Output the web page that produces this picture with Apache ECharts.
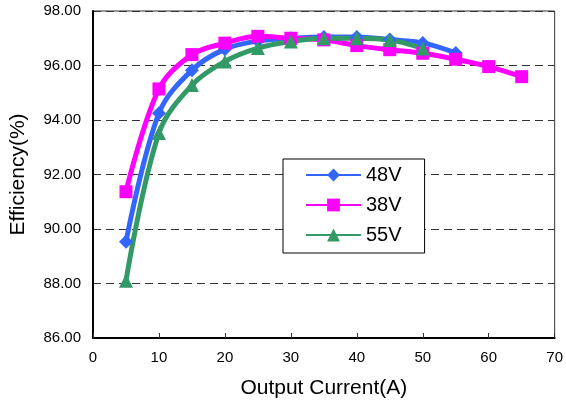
<!DOCTYPE html>
<html>
<head>
<meta charset="utf-8">
<script src="https://cdn.jsdelivr.net/npm/echarts@6/dist/echarts.min.js"></script>
<style>
html,body{margin:0;padding:0;background:#fff;}
#chart{width:566px;height:409px;}
</style>
</head>
<body>
<div id="chart"></div>
<script>
var xTicks = [0, 10, 20, 30, 40, 50, 60, 70];
var yTicks = [86, 88, 90, 92, 94, 96, 98];

var current48 = [5, 10, 15, 20, 25, 30, 35, 40, 45, 50, 55];
var eff48 = [89.53, 94.25, 95.83, 96.6, 96.9, 97.0, 97.05, 97.05, 96.95, 96.83, 96.46];

var current38 = [5, 10, 15, 20, 25, 30, 35, 40, 45, 50, 55, 60, 65];
var eff38 = [91.37, 95.14, 96.4, 96.82, 97.07, 97.0, 96.94, 96.73, 96.58, 96.45, 96.23, 95.96, 95.59];

var current55 = [5, 10, 15, 20, 25, 30, 35, 40, 45, 50];
var eff55 = [88.1, 93.52, 95.28, 96.15, 96.64, 96.88, 97.0, 97.0, 96.94, 96.62];

var seriesNames = ['48V', '38V', '55V'];

function pairs(xs, ys) { return xs.map(function (x, i) { return [x, ys[i]]; }); }

var FONT = '"Liberation Sans", Arial, sans-serif';
var chart = echarts.init(document.getElementById('chart'), null, {renderer: 'canvas'});

function mk(name, data, color, symbol, size) {
  return {
    name: name, type: 'line', data: data, smooth: 0.35,
    symbol: symbol, symbolSize: size, showSymbol: true,
    lineStyle: {color: color, width: 5},
    itemStyle: {color: color},
    emphasis: {disabled: true},
    animation: false
  };
}

chart.setOption({
  animation: false,
  grid: {left: 91, right: 10, top: 11, bottom: 71, show: true, borderColor: '#333', borderWidth: 1},
  legend: {
    orient: 'vertical', left: 283, top: 159,
    backgroundColor: '#fff', borderColor: '#000', borderWidth: 1,
    padding: [6, 23, 8, 22],
    itemWidth: 55, itemHeight: 16, itemGap: 10,
    textStyle: {fontFamily: FONT, fontSize: 20, color: '#000'},
    data: seriesNames
  },
  xAxis: {
    type: 'value', min: xTicks[0], max: xTicks[xTicks.length - 1], interval: 10,
    name: 'Output Current(A)', nameLocation: 'middle', nameGap: 40,
    nameTextStyle: {fontFamily: FONT, fontSize: 21, color: '#000'},
    axisLine: {show: true, onZero: false, lineStyle: {color: '#000', width: 2}},
    axisTick: {show: true, inside: true, length: 5, lineStyle: {color: '#333', width: 1}},
    axisLabel: {fontFamily: FONT, fontSize: 15, color: '#000', margin: 12},
    splitLine: {show: false}
  },
  yAxis: {
    type: 'value', min: yTicks[0], max: yTicks[yTicks.length - 1], interval: 2,
    name: 'Efficiency(%)', nameLocation: 'middle', nameGap: 64,
    nameTextStyle: {fontFamily: FONT, fontSize: 21, color: '#000'},
    axisLine: {show: true, lineStyle: {color: '#000', width: 2}},
    axisTick: {show: false},
    axisLabel: {fontFamily: FONT, fontSize: 15, color: '#000', margin: 12,
      formatter: function (v) { return v.toFixed(2); }},
    splitLine: {show: true, lineStyle: {color: '#333', width: 1, type: [8, 5]}}
  },
  series: [
    mk(seriesNames[0], pairs(current48, eff48), '#3366FF', 'diamond', 14),
    mk(seriesNames[1], pairs(current38, eff38), '#FF00FF', 'rect', 13),
    mk(seriesNames[2], pairs(current55, eff55), '#339966', 'triangle', 14)
  ]
});
</script>
</body>
</html>
